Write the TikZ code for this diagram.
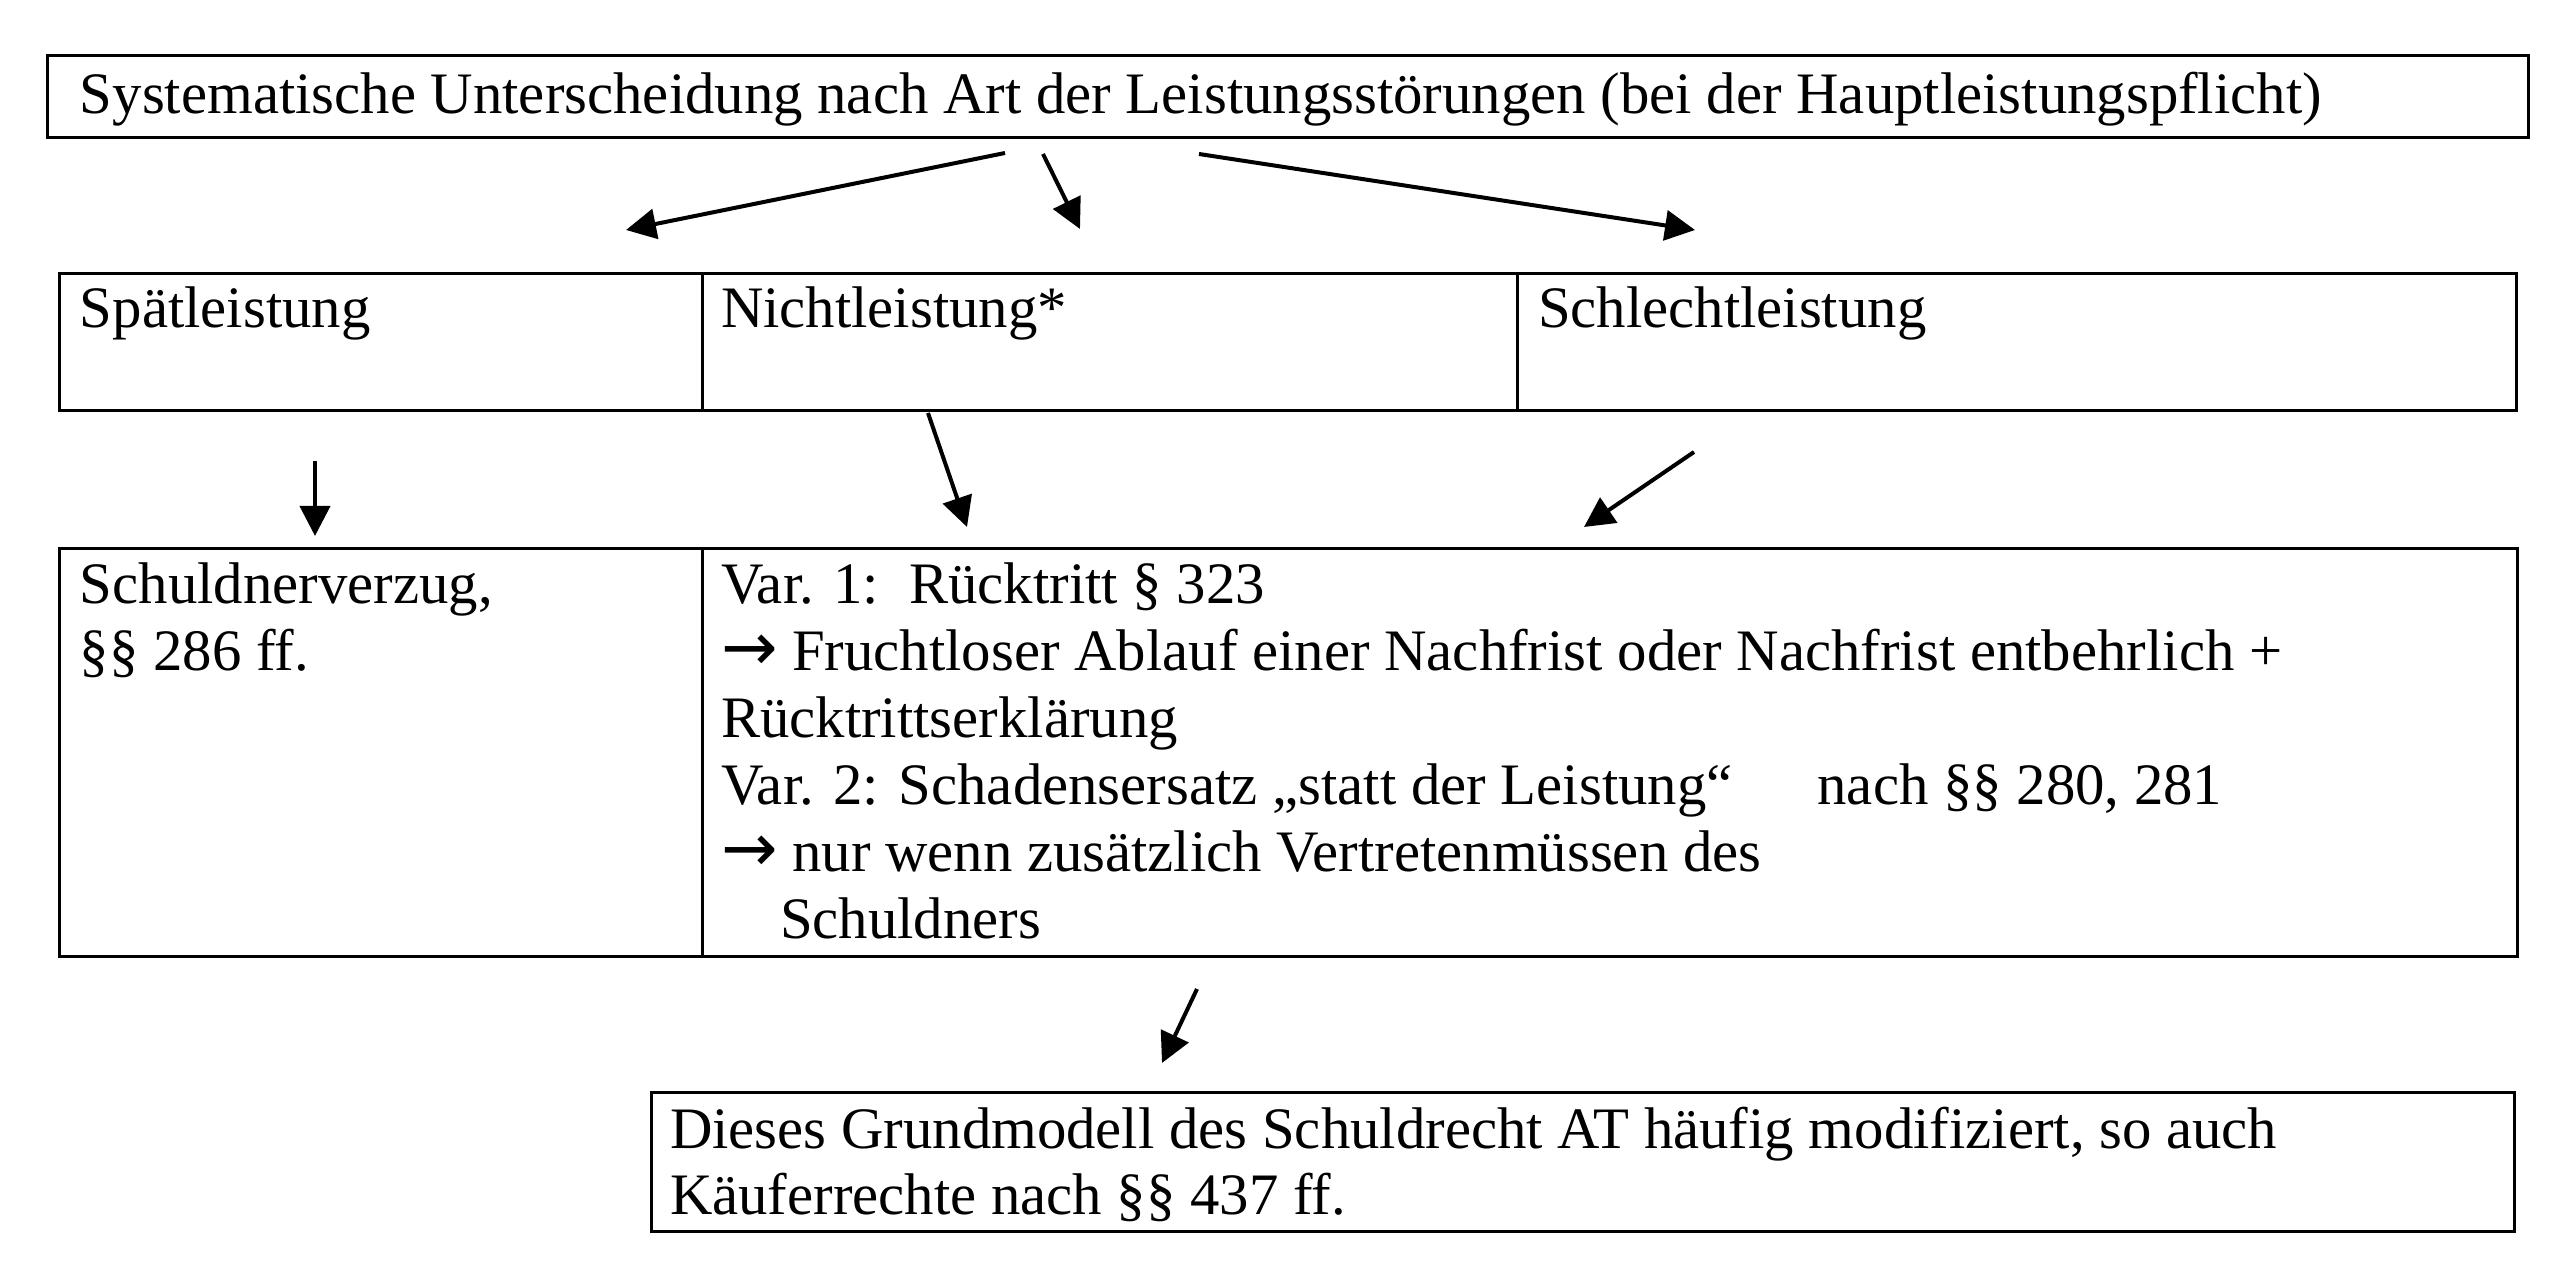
\documentclass[tikz,border=0pt]{standalone}
\usepackage{fontspec}
\setmainfont{Liberation Serif}
\newfontfamily\arrowfont{DejaVu Sans}
\usetikzlibrary{arrows.meta}
\newcommand{\folge}{{\arrowfont\fontsize{13.5}{14}\selectfont →}}
\begin{document}
\begin{tikzpicture}[x=0.2pt,y=-0.2pt,
  cell/.style={draw, line width=0.6pt, inner sep=0pt, anchor=north west},
  txt/.style={inner sep=0pt, anchor=base west, font=\fontsize{11.75}{14}\selectfont},
  flow/.style={line width=0.8pt, -{Triangle[length=6pt,width=6pt]}}]
\useasboundingbox (0,0) rectangle (2576,1276);

% cells
\node[cell, minimum width=496.2pt, minimum height=16.4pt] (sys) at (46,54) {};
\node[cell, minimum width=128.6pt, minimum height=27.4pt] (spaet) at (58,272) {};
\node[cell, minimum width=163pt, minimum height=27.4pt] (nicht) at (701,272) {};
\node[cell, minimum width=199.8pt, minimum height=27.4pt] (schlecht) at (1516,272) {};
\node[cell, minimum width=128.6pt, minimum height=81.6pt] (verzug) at (58,547) {};
\node[cell, minimum width=363pt, minimum height=81.6pt] (folgen) at (701,547) {};
\node[cell, minimum width=372.6pt, minimum height=27.8pt] (modell) at (650,1091) {};

% texts
\node[txt] (sysT) at (79,114) {Systematische Unterscheidung nach Art der Leistungsstörungen (bei der Hauptleistungspflicht)};
\node[txt] (spaetT) at (79,328) {Spätleistung};
\node[txt] (nichtT) at (720,328) {Nichtleistung*};
\node[txt] (schlechtT) at (1537,328) {Schlechtleistung};
\node[txt] (verzugA) at (79,604) {Schuldnerverzug,};
\node[txt] (verzugB) at (79,671) {§§ 286 ff.};
\node[txt] (folgenA) at (720,604) {Var. 1:\hspace{6pt}Rücktritt § 323};
\node[txt] (folgenB) at (720,671) {\folge{} Fruchtloser Ablauf einer Nachfrist oder Nachfrist entbehrlich +};
\node[txt] (folgenC) at (720,738) {Rücktrittserklärung};
\node[txt] (folgenD) at (720,805) {Var. 2: Schadensersatz „statt der Leistung“\hspace{17pt}nach §§ 280, 281};
\node[txt] (folgenE) at (720,872) {\folge{} nur wenn zusätzlich Vertretenmüssen des};
\node[txt] (folgenF) at (779,939) {Schuldners};
\node[txt] (modellA) at (669,1149) {Dieses Grundmodell des Schuldrecht AT häufig modifiziert, so auch};
\node[txt] (modellB) at (669,1215) {Käuferrechte nach §§ 437 ff.};

% arrow end points
\coordinate (a1s) at (1005,153);  \coordinate (a1e) at (626,230);
\coordinate (a2s) at (1043,154);  \coordinate (a2e) at (1080,229);
\coordinate (a3s) at (1199,154);  \coordinate (a3e) at (1695,230);
\coordinate (a4s) at (315,461);   \coordinate (a4e) at (315,536);
\coordinate (a5s) at (928,413);   \coordinate (a5e) at (967,527);
\coordinate (a6s) at (1694,452);  \coordinate (a6e) at (1584,527);
\coordinate (a7s) at (1197,989);  \coordinate (a7e) at (1162,1063);

\draw[flow] (a1s) -- (a1e);
\draw[flow] (a2s) -- (a2e);
\draw[flow] (a3s) -- (a3e);
\draw[flow] (a4s) -- (a4e);
\draw[flow] (a5s) -- (a5e);
\draw[flow] (a6s) -- (a6e);
\draw[flow] (a7s) -- (a7e);
\end{tikzpicture}
\end{document}
